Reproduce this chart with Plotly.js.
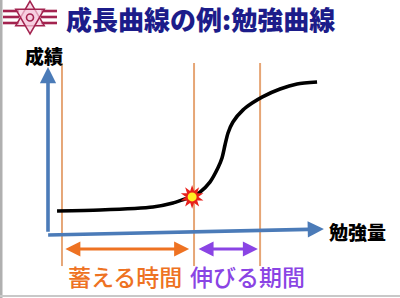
<!DOCTYPE html>
<html>
<head>
<meta charset="utf-8">
<script src="https://cdn.plot.ly/plotly-3.0.1.min.js"></script>
<style>
  html, body { margin: 0; padding: 0; background: #ffffff; }
  #chart { width: 400px; height: 298px; }
</style>
</head>
<body>
<div id="chart"></div>
<script>
// Growth curve: score against amount of study (both on a 0-100 scale)
const studyAmount = [3.3, 19.0, 38.3, 45.6, 50.0, 52.6, 55.5, 59.1, 62.0, 63.5, 64.6, 65.7, 67.5, 71.2, 74.5, 78.1, 84.7, 90.9, 98.2];
const score       = [13.8, 14.4, 16.2, 18.6, 21.0, 22.2, 25.1, 31.1, 39.5, 45.5, 53.3, 60.5, 67.1, 74.3, 78.4, 82.0, 86.8, 89.8, 91.0];

// Where the curve breaks through
const breakthroughIndex = 5;

// Phase boundaries on the study axis
const phaseBounds = [5.1, 53.3, 77.4];

// Phases shown under the axis
const phaseLabels = ['蓄える時間', '伸びる期間'];
const phaseStart  = [5.8, 54.4];
const phaseEnd    = [51.5, 76.6];
const phaseColors = ['#ee7222', '#8a44e4'];

const titleText = '成長曲線の例:勉強曲線';
const yAxisLabel = '成績';
const xAxisLabel = '勉強量';

// ---- page geometry ----
const W = 400, H = 298;
const ORIGIN = { x: 48, y: 234 };      // pixel position of (0,0)
const SX = 2.74, SY = 1.67;            // pixels per unit
const xRange = [-ORIGIN.x / SX, (W - ORIGIN.x) / SX];
const yRange = [-(H - ORIGIN.y) / SY, ORIGIN.y / SY];
const px = v => v / W;
const py = v => 1 - v / H;

const AXIS_BLUE = '#4b7bb8';
const GUIDE = '#e6a676';
const EMBLEM = '#a3234f';
const CJK = '"Noto Sans CJK JP", "Noto Sans", sans-serif';

const traces = [];

// vertical guide lines at the phase boundaries
phaseBounds.forEach(b => {
  traces.push({
    x: [b, b], y: [-19.2, 102.4],
    mode: 'lines', line: { color: GUIDE, width: 2 },
    hoverinfo: 'skip', showlegend: false
  });
});

// the growth curve
traces.push({
  x: studyAmount, y: score,
  mode: 'lines', line: { color: '#000000', width: 3.6, shape: 'spline', smoothing: 0.7 },
  hoverinfo: 'skip', showlegend: false
});

// burst marker at the breakthrough point
const bx = [studyAmount[breakthroughIndex]], by = [score[breakthroughIndex]];
traces.push({ x: bx, y: by, mode: 'markers', hoverinfo: 'skip', showlegend: false,
  marker: { symbol: 'star', size: 17, color: '#e8201a', line: { width: 0 } } });
traces.push({ x: bx, y: by, mode: 'markers', hoverinfo: 'skip', showlegend: false,
  marker: { symbol: 'star', size: 17, angle: 36, color: '#e8201a', line: { width: 0 } } });
traces.push({ x: bx, y: by, mode: 'markers', hoverinfo: 'skip', showlegend: false,
  marker: { symbol: 'circle', size: 9, color: '#ffee22', line: { width: 0 } } });

const annotations = [];

// axes drawn as arrows
annotations.push({ x: 0, y: 100, ax: 0, ay: 0.5, xref: 'x', yref: 'y', axref: 'x', ayref: 'y',
  text: '', showarrow: true, arrowhead: 2, arrowsize: 0.9, arrowwidth: 3.6, arrowcolor: AXIS_BLUE });
annotations.push({ x: 100.7, y: 3.0, ax: -0.5, ay: -0.6, xref: 'x', yref: 'y', axref: 'x', ayref: 'y',
  text: '', showarrow: true, arrowhead: 2, arrowsize: 0.9, arrowwidth: 3.6, arrowcolor: AXIS_BLUE });

// phase double arrows and labels
const labelLeft = [66, 188];
phaseLabels.forEach((lab, i) => {
  annotations.push({ x: phaseEnd[i], y: -9, ax: phaseStart[i], ay: -9,
    xref: 'x', yref: 'y', axref: 'x', ayref: 'y', text: '', showarrow: true,
    arrowhead: 2, startarrowhead: 2, arrowside: 'end+start', arrowsize: 1, startarrowsize: 1,
    arrowwidth: 3, arrowcolor: phaseColors[i] });
  annotations.push({ x: px(labelLeft[i]), y: py(276), xref: 'paper', yref: 'paper',
    xanchor: 'left', yanchor: 'middle', showarrow: false, text: lab,
    font: { family: CJK, size: 23, weight: 500, color: phaseColors[i] } });
});

// axis names
annotations.push({ x: px(44), y: py(56), xref: 'paper', yref: 'paper', xanchor: 'center', yanchor: 'middle',
  showarrow: false, text: yAxisLabel, font: { family: CJK, size: 19, weight: 900, color: '#000' } });
annotations.push({ x: px(327), y: py(231), xref: 'paper', yref: 'paper', xanchor: 'left', yanchor: 'middle',
  showarrow: false, text: xAxisLabel, font: { family: CJK, size: 19, weight: 900, color: '#000' } });

// title
annotations.push({ x: px(64), y: py(19), xref: 'paper', yref: 'paper', xanchor: 'left', yanchor: 'middle',
  showarrow: false, text: titleText, font: { family: CJK, size: 26, weight: 900, color: '#1c1c8a' } });

// emblem: striped bars either side of a six-pointed star
const shapes = [];
[11, 17, 23].forEach(yy => {
  shapes.push({ type: 'line', xref: 'paper', yref: 'paper', x0: px(3), x1: px(19), y0: py(yy), y1: py(yy),
    line: { color: EMBLEM, width: 2.6 } });
  shapes.push({ type: 'line', xref: 'paper', yref: 'paper', x0: px(41), x1: px(57), y0: py(yy), y1: py(yy),
    line: { color: EMBLEM, width: 2.6 } });
});
function trianglePath(cx, cy, r, startDeg) {
  const pts = [0, 120, 240].map(d => {
    const a = (startDeg + d) * Math.PI / 180;
    return [px(cx + r * Math.cos(a)), py(cy + r * Math.sin(a))];
  });
  return 'M' + pts.map(p => p[0].toFixed(5) + ',' + p[1].toFixed(5)).join(' L') + ' Z';
}
const star = { cx: 30, cy: 17.5, r: 16.5 };
[-90, 90].forEach(start => {
  shapes.push({ type: 'path', xref: 'paper', yref: 'paper', path: trianglePath(star.cx, star.cy, star.r, start),
    fillcolor: 'rgba(246,204,222,0.7)', line: { color: EMBLEM, width: 1.5 } });
});
shapes.push({ type: 'circle', xref: 'paper', yref: 'paper',
  x0: px(star.cx - 3.5), x1: px(star.cx + 3.5), y0: py(star.cy + 3.5), y1: py(star.cy - 3.5),
  fillcolor: 'rgba(0,0,0,0)', line: { color: EMBLEM, width: 1.6 } });

// frame edges
shapes.push({ type: 'rect', xref: 'paper', yref: 'paper', x0: 0, x1: px(2.5), y0: 0, y1: 1,
  fillcolor: '#b0b0b0', line: { width: 0 } });
shapes.push({ type: 'rect', xref: 'paper', yref: 'paper', x0: 0, x1: 1, y0: py(297), y1: py(295),
  fillcolor: '#c8c8c8', line: { width: 0 } });

const layout = {
  width: W, height: H,
  margin: { l: 0, r: 0, t: 0, b: 0 },
  paper_bgcolor: '#ffffff', plot_bgcolor: '#ffffff',
  xaxis: { range: xRange, visible: false, fixedrange: true },
  yaxis: { range: yRange, visible: false, fixedrange: true },
  showlegend: false,
  annotations, shapes
};

Plotly.newPlot('chart', traces, layout, { displayModeBar: false, staticPlot: true });
</script>
</body>
</html>
